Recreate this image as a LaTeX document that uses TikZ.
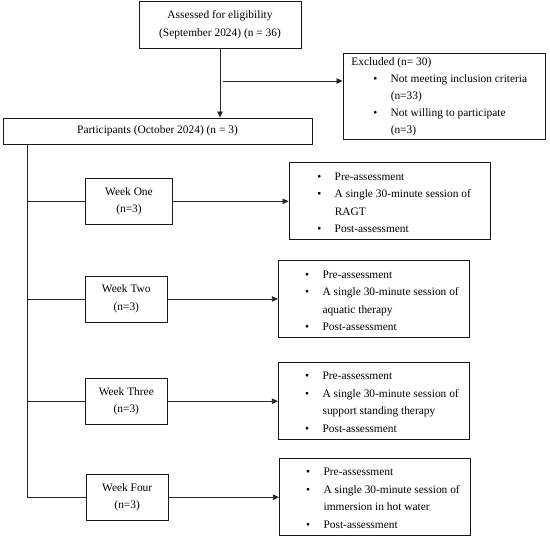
\documentclass[tikz,border=0pt]{standalone}
\usepackage{fontspec}
\setmainfont{Liberation Serif}
\usetikzlibrary{arrows.meta,calc}
\newcommand{\itm}[1]{\makebox[17.5pt][l]{\textbullet}#1}
\newcommand{\cnt}[1]{\hspace*{17.5pt}#1}
\begin{document}
\begin{tikzpicture}[x=1pt,y=-1pt,
  box/.style={draw=black!90, line width=0.9pt, rectangle, inner sep=0pt, align=center,
    font=\fontsize{11.4}{17.5}\selectfont},
  listtxt/.style={inner sep=0pt, align=left, anchor=west, font=\fontsize{11.4}{17.5}\selectfont},
  link/.style={draw=black!85, line width=0.75pt},
  arr/.style={link, -{Triangle[length=6pt,width=5.5pt]}}]
\useasboundingbox (0,0) rectangle (550,542);
% boxes
\node[box, minimum width=162pt, minimum height=47pt] (assess) at (220,24.5)
  {Assessed for eligibility\\(September 2024) (n = 36)};
\node[box, minimum width=202pt, minimum height=86pt] (excl) at (444,96) {};
\node[box, minimum width=309pt, minimum height=26pt] (part) at (157.5,131)
  {Participants (October 2024) (n = 3)};
\node[box, minimum width=86.6pt, minimum height=46pt] (w1) at (129,201.3) {Week One\\(n=3)};
\node[box, minimum width=82.7pt, minimum height=46pt] (w2) at (126.3,299) {Week Two\\(n=3)};
\node[box, minimum width=82.7pt, minimum height=45.7pt] (w3) at (126.3,401.2) {Week Three\\(n=3)};
\node[box, minimum width=82.3pt, minimum height=45.7pt] (w4) at (127.2,497.2) {Week Four\\(n=3)};
\node[box, minimum width=201pt, minimum height=76.6pt] (r1) at (389.5,201) {};
\node[box, minimum width=190.7pt, minimum height=77pt] (r2) at (373.7,299.2) {};
\node[box, minimum width=190.7pt, minimum height=76.6pt] (r3) at (373.7,401) {};
\node[box, minimum width=190.7pt, minimum height=76.7pt] (r4) at (374.7,496.7) {};
% texts
\node[listtxt, font=\fontsize{11.4}{17}\selectfont] (exclt) at ($(excl.west)+(8.7,0.5)$)
  {Excluded (n= 30)\\
   \hspace*{21.8pt}\itm{Not meeting inclusion criteria}\\
   \hspace*{21.8pt}\cnt{(n=33)}\\
   \hspace*{21.8pt}\itm{Not willing to participate}\\
   \hspace*{21.8pt}\cnt{(n=3)}};
\node[listtxt] (r1t) at ($(r1.west)+(28.5,2)$)
  {\itm{Pre-assessment}\\\itm{A single 30-minute session of}\\\cnt{RAGT}\\\itm{Post-assessment}};
\node[listtxt] (r2t) at ($(r2.west)+(27,1.5)$)
  {\itm{Pre-assessment}\\\itm{A single 30-minute session of}\\\cnt{aquatic therapy}\\\itm{Post-assessment}};
\node[listtxt] (r3t) at ($(r3.west)+(27,1.5)$)
  {\itm{Pre-assessment}\\\itm{A single 30-minute session of}\\\cnt{support standing therapy}\\\itm{Post-assessment}};
\node[listtxt] (r4t) at ($(r4.west)+(27,1.5)$)
  {\itm{Pre-assessment}\\\itm{A single 30-minute session of}\\\cnt{immersion in hot water}\\\itm{Post-assessment}};
% connectors
\draw[arr] (assess.south) -- (assess.south |- part.north);
\coordinate (xs) at (222.7,81);
\draw[arr] (xs) -- (xs -| excl.west);
\coordinate (ttop) at ($(part.south west)+(25,0)$);
\coordinate (tbot) at (ttop |- w4.west);
\draw[link] (ttop) -- (tbot) -- (w4.west);
\draw[link] (w1.west -| ttop) -- (w1.west);
\draw[link] (w2.west -| ttop) -- (w2.west);
\draw[link] (w3.west -| ttop) -- (w3.west);
\draw[arr] (w1.east) -- (w1.east -| r1.west);
\draw[arr] (w2.east) -- (w2.east -| r2.west);
\draw[arr] (w3.east) -- (w3.east -| r3.west);
\draw[arr] (w4.east) -- (w4.east -| r4.west);
\end{tikzpicture}
\end{document}
